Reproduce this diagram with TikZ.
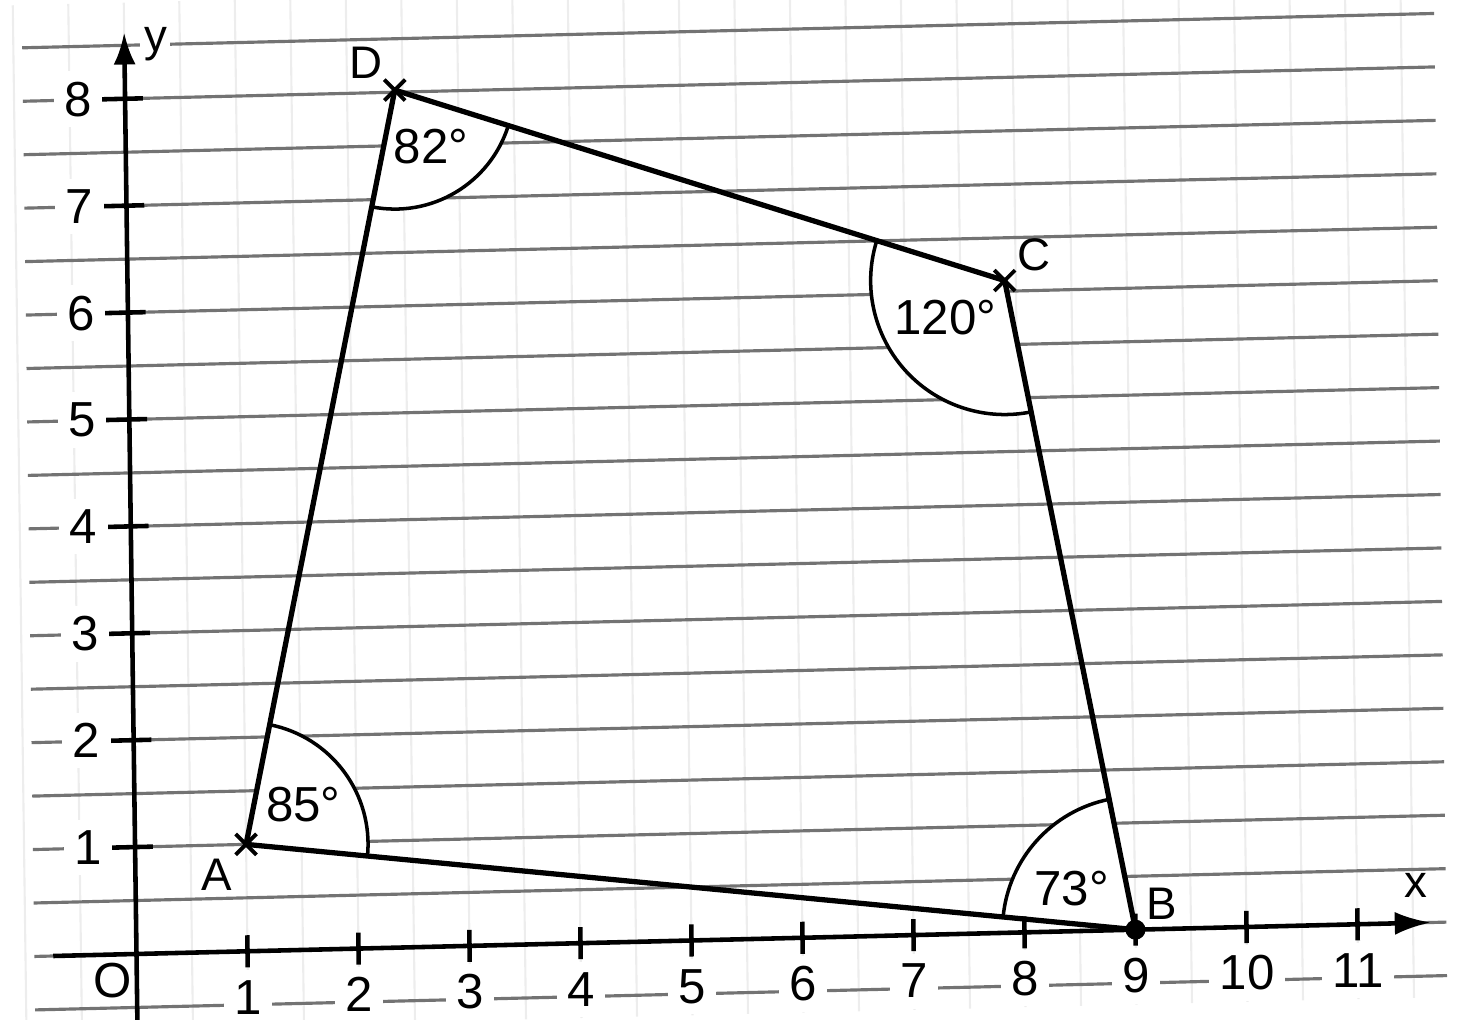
\documentclass[tikz,border=0pt]{standalone}
\usepackage{fontspec}
\setmainfont{Liberation Sans}
\usetikzlibrary{arrows.meta,angles,shapes.misc}

\begin{document}
\begin{tikzpicture}[
  x={(1.11cm,0.027cm)}, y={(-0.0143cm,1.069cm)},
  >=Latex,
  font=\fontsize{14}{16}\selectfont,
  rule/.style={black!55,line width=0.9pt},
  faint/.style={black!7,line width=0.6pt},
  axisline/.style={line width=1.3pt},
  side/.style={line width=1.5pt},
  corner/.style={draw,line width=1pt,fill=white},
  vertex/.style={cross out,draw,line width=1.1pt,minimum size=1.7mm,inner sep=0pt},
  dot/.style={circle,fill,inner sep=0pt,minimum size=2mm},
  ticklabel/.style={fill=white,inner sep=3pt},
  ptname/.style={font=\fontsize{13}{15}\selectfont}
]
  \path[use as bounding box] (-1.365cm,-0.66cm) rectangle (13.345cm,9.54cm);

  % squared paper
  \foreach \i in {-1,-0.5,...,11.5}
    \draw[faint] (\i,-0.7) -- (\i,8.9);
  \foreach \j in {-0.5,0,...,8.5}
    \draw[rule] (-0.92,\j) -- (11.8,\j);

  % quadrilateral corners
  \coordinate (A) at (1,1);
  \coordinate (B) at (9,0);
  \coordinate (C) at (7.9,6.1);
  \coordinate (D) at (2.43,8.02);

  % angle marks
  \pic[corner,angle radius=1.22cm] {angle=B--A--D};
  \pic[corner,angle radius=1.33cm] {angle=C--B--A};
  \pic[corner,angle radius=1.34cm] {angle=D--C--B};
  \pic[corner,angle radius=1.19cm] {angle=A--D--C};

  % axes
  \draw[axisline,-{Latex[length=3.6mm,width=2.3mm]}] (-0.75,0) -- (11.66,0);
  \draw[axisline,-{Latex[length=3.2mm,width=2.2mm]}] (0,-0.7) -- (0,8.62);
  \foreach \i in {1,...,11}{
    \draw[axisline] (\i,-0.15) -- (\i,0.15);
    \node[ticklabel] (x\i) at (\i,-0.43) {\i};
  }
  \foreach \j in {1,...,8}{
    \draw[axisline] (-0.21,\j) -- (0.16,\j);
    \node[ticklabel,anchor=east] (y\j) at (-0.2,\j) {\j};
  }
  \node (origin) at (-0.22,-0.24) {O};
  \node[ptname] (xname) at (11.53,0.35) {x};
  \node[ptname,fill=white,inner sep=1pt] (yname) at (0.28,8.5) {y};

  % sides
  \draw[side] (A) -- (B) -- (C) -- (D) -- cycle;
  \foreach \p in {A,C,D}
    \node[vertex] (m\p) at (\p) {};
  \node[dot] (mB) at (B) {};

  % point names
  \node[ptname] (lA) at (0.73,0.72) {A};
  \node[ptname] (lB) at (9.24,0.24) {B};
  \node[ptname] (lC) at (8.17,6.33) {C};
  \node[ptname] (lD) at (2.17,8.28) {D};

  % angle sizes
  \node (wA) at (1.52,1.36) {85°};
  \node (wB) at (8.43,0.40) {73°};
  \node (wC) at (7.36,5.77) {120°};
  \node (wD) at (2.75,7.48) {82°};
\end{tikzpicture}
\end{document}
